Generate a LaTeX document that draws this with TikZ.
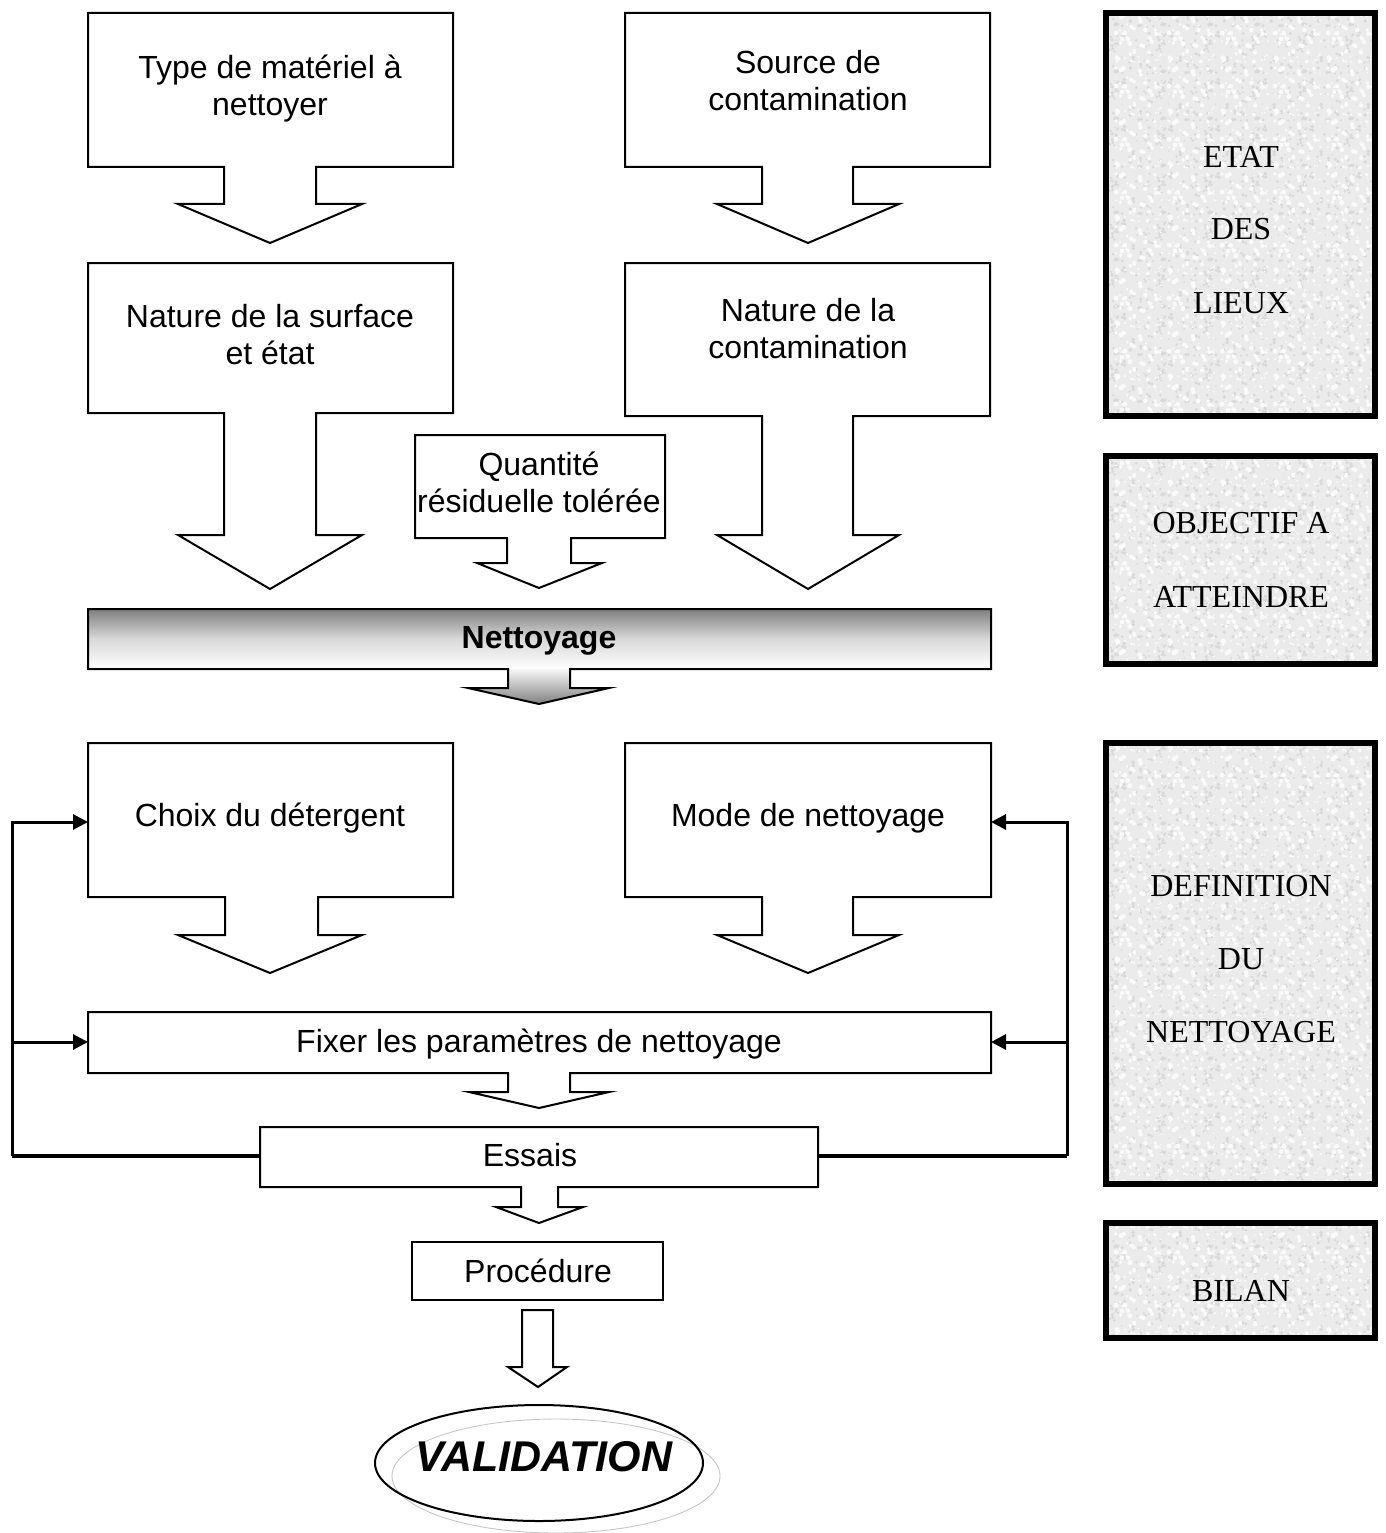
\documentclass[tikz,border=0pt]{standalone}
\usepackage{fontspec}
\newfontfamily\arialf{Liberation Sans}
\newfontfamily\tnrf{Liberation Serif}
\usetikzlibrary{arrows.meta,patterns}
\pgfdeclarepatternformonly{graniteA}{\pgfqpoint{0pt}{0pt}}{\pgfqpoint{47pt}{47pt}}{\pgfqpoint{47pt}{47pt}}{%
  \pgfmathsetseed{3}%
  \foreach \k in {1,...,45}{%
    \pgfmathsetmacro\gx{rnd*44+1.5}%
    \pgfmathsetmacro\gy{rnd*44+1.5}%
    \pgfmathsetmacro\gr{0.6+rnd*1.4}%
    \pgfpathcircle{\pgfqpoint{\gx pt}{\gy pt}}{\gr pt}%
  }%
  \pgfusepath{fill}%
}
\pgfdeclarepatternformonly{graniteB}{\pgfqpoint{0pt}{0pt}}{\pgfqpoint{53pt}{53pt}}{\pgfqpoint{53pt}{53pt}}{%
  \pgfmathsetseed{17}%
  \foreach \k in {1,...,55}{%
    \pgfmathsetmacro\gx{rnd*49+2}%
    \pgfmathsetmacro\gy{rnd*49+2}%
    \pgfmathsetmacro\gr{0.8+rnd*1.8}%
    \pgfpathcircle{\pgfqpoint{\gx pt}{\gy pt}}{\gr pt}%
  }%
  \pgfusepath{fill}%
}
\begin{document}
\begin{tikzpicture}[x=1pt,y=-1pt,
  shapeline/.style={draw=black,line width=2,fill=white,line join=miter},
  sanslbl/.style={inner sep=0,font=\arialf\fontsize{32}{36.8}\selectfont,align=center},
  seriflbl/.style={inner sep=0,font=\tnrf\fontsize{32}{36.8}\selectfont,anchor=base},
  sidebox/.style={draw=black,line width=6},
  granitefill/.style={fill=gray!16},
  fb/.style={line width=3},
  fbtip/.style={fb,-{Triangle[length=15pt,width=15pt]}}]
\useasboundingbox (0,0) rectangle (1385,1533);

% ---- callouts (top) ----
\draw[shapeline] (88,13) -- (453,13) -- (453,167) -- (316,167) -- (316,204) -- (362,204)
  -- (270,243) -- (178,204) -- (224,204) -- (224,167) -- (88,167) -- cycle;
\node[sanslbl,anchor=north] (type) at (270,48.5) {\rule{0pt}{30pt}Type de matériel à\\nettoyer};

\draw[shapeline] (625,13) -- (990,13) -- (990,167) -- (853,167) -- (853,204) -- (899,204)
  -- (808,243) -- (717,204) -- (762,204) -- (762,167) -- (625,167) -- cycle;
\node[sanslbl,anchor=north] (source) at (808,43.5) {\rule{0pt}{30pt}Source de\\contamination};

\draw[shapeline] (88,263) -- (453,263) -- (453,413) -- (316,413) -- (316,535) -- (362,535)
  -- (270,589) -- (178,535) -- (224,535) -- (224,413) -- (88,413) -- cycle;
\node[sanslbl,anchor=north] (surface) at (270,297.5) {\rule{0pt}{30pt}Nature de la surface\\et état};

\draw[shapeline] (625,263) -- (990,263) -- (990,416) -- (853,416) -- (853,535) -- (899,535)
  -- (808,589) -- (717,535) -- (762,535) -- (762,416) -- (625,416) -- cycle;
\node[sanslbl,anchor=north] (contam) at (808,291.5) {\rule{0pt}{30pt}Nature de la\\contamination};

\draw[shapeline] (415,435) -- (665,435) -- (665,538) -- (571,538) -- (571,563) -- (602,563)
  -- (539,588) -- (477,563) -- (507,563) -- (507,538) -- (415,538) -- cycle;
\node[sanslbl,anchor=north] (quant) at (539,445.5) {\rule{0pt}{30pt}Quantité\\résiduelle tolérée};

% ---- Nettoyage bar ----
\fill[top color=gray, bottom color=white, middle color=gray!30] (88,609) rectangle (991,669);
\fill[top color=white, bottom color=gray] (508,667) -- (570,667) -- (570,688) -- (609,688)
  -- (539,704) -- (468,688) -- (508,688) -- cycle;
\draw[line width=2,line join=miter] (88,609) -- (991,609) -- (991,669) -- (570,669) -- (570,688) -- (609,688)
  -- (539,704) -- (468,688) -- (508,688) -- (508,669) -- (88,669) -- cycle;
\node[sanslbl,anchor=base,font=\arialf\bfseries\fontsize{32}{36.8}\selectfont] (nett) at (539,648.5) {Nettoyage};

% ---- middle callouts ----
\draw[shapeline] (88,743) -- (453,743) -- (453,897) -- (318,897) -- (318,935) -- (362,935)
  -- (270,973) -- (178,935) -- (225,935) -- (225,897) -- (88,897) -- cycle;
\node[sanslbl,anchor=base] (choix) at (270,826.5) {Choix du détergent};

\draw[shapeline] (625,743) -- (991,743) -- (991,897) -- (853,897) -- (853,935) -- (899,935)
  -- (808,973) -- (717,935) -- (762,935) -- (762,897) -- (625,897) -- cycle;
\node[sanslbl,anchor=base] (mode) at (808,826.5) {Mode de nettoyage};

\draw[shapeline] (88,1012) -- (991,1012) -- (991,1073) -- (570,1073) -- (570,1092) -- (609,1092)
  -- (539,1108) -- (469,1092) -- (508,1092) -- (508,1073) -- (88,1073) -- cycle;
\node[sanslbl,anchor=base] (fixer) at (539,1052.5) {Fixer les paramètres de nettoyage};

\draw[shapeline] (260,1127) -- (818,1127) -- (818,1187) -- (558,1187) -- (558,1207) -- (583,1207)
  -- (539,1223) -- (496,1207) -- (521,1207) -- (521,1187) -- (260,1187) -- cycle;
\node[sanslbl,anchor=base] (essais) at (530,1166.5) {Essais};

\draw[shapeline] (412,1242) rectangle (663,1300);
\node[sanslbl,anchor=base] (proc) at (538,1282.5) {Procédure};

\draw[shapeline] (522,1310) -- (553,1310) -- (553,1367) -- (567,1367) -- (538,1387)
  -- (508,1367) -- (522,1367) -- cycle;

% ---- validation ----
\draw[gray!45,line width=0.9] (556,1476) ellipse [x radius=164, y radius=57];
\draw[line width=2] (539,1463) ellipse [x radius=164, y radius=58];
\node[inner sep=0,font=\arialf\bfseries\itshape\fontsize{43}{48}\selectfont] (valid) at (544,1457) {VALIDATION};

% ---- feedback loops ----
\coordinate (choixW) at (88,822);
\coordinate (fixW) at (88,1042);
\coordinate (essW) at (260,1156);
\coordinate (modeE) at (991,822);
\coordinate (fixE) at (991,1042);
\coordinate (essE) at (818,1156);
\coordinate (Lc) at (12,1156);
\coordinate (Rc) at (1067,1156);
\draw[fb,line width=3.5] (essW) -- (Lc);
\draw[fbtip] (Lc) |- (choixW);
\draw[fbtip] (Lc |- fixW) -- (fixW);
\draw[fb,line width=3.5] (essE) -- (Rc);
\draw[fbtip] (Rc) |- (modeE);
\draw[fbtip] (Rc |- fixE) -- (fixE);

% ---- side boxes ----
\foreach \ya/\yb in {13/416, 456/664, 743/1184, 1223/1338}{
  \fill[granitefill] (1106,\ya) rectangle (1375,\yb);
  \fill[pattern=graniteA, pattern color=gray!30] (1106,\ya) rectangle (1375,\yb);
  \fill[pattern=graniteB, pattern color=white!96!gray] (1106,\ya) rectangle (1375,\yb);
  \draw[sidebox] (1106,\ya) rectangle (1375,\yb);
}
\node[seriflbl] (etat) at (1241,167.6) {ETAT};
\node[seriflbl] (des) at (1241,239.6) {DES};
\node[seriflbl] (lieux) at (1241,313.6) {LIEUX};
\node[seriflbl] (obj) at (1241,533.6) {OBJECTIF A};
\node[seriflbl] (att) at (1241,607.6) {ATTEINDRE};
\node[seriflbl] (def) at (1241,896.6) {DEFINITION};
\node[seriflbl] (du) at (1241,969.6) {DU};
\node[seriflbl] (nettcap) at (1241,1042.6) {NETTOYAGE};
\node[seriflbl] (bilan) at (1241,1301.6) {BILAN};
\end{tikzpicture}
\end{document}
